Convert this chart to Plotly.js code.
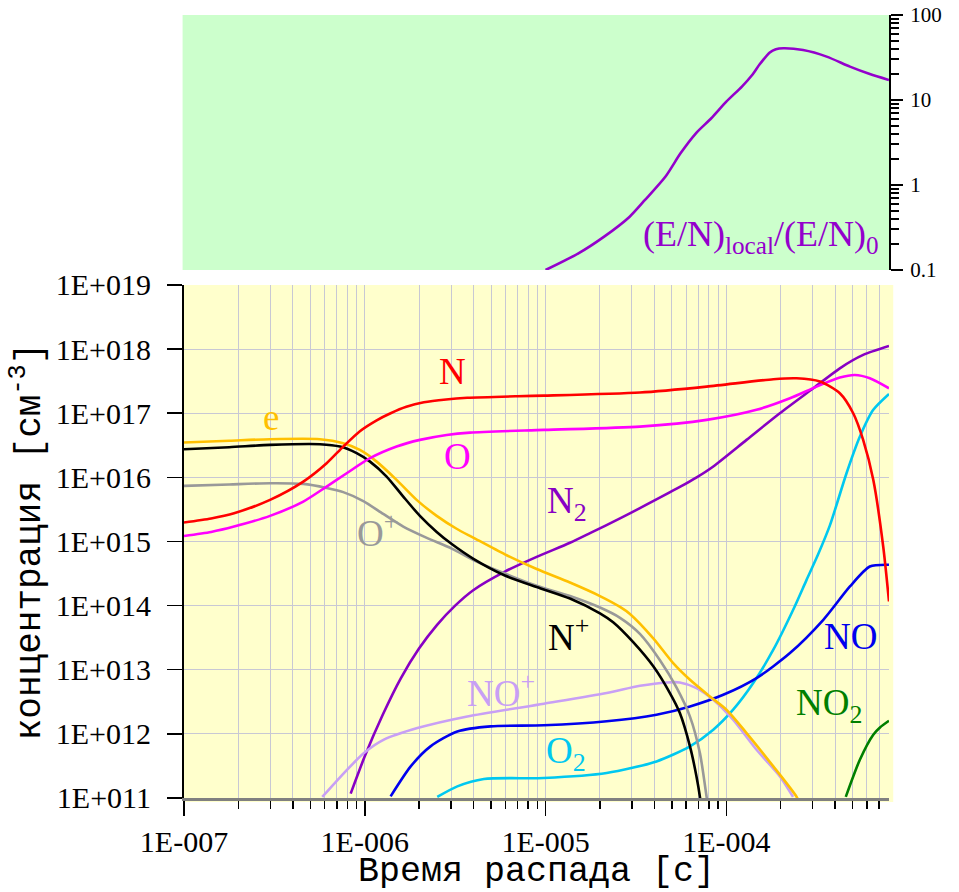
<!DOCTYPE html>
<html>
<head>
<meta charset="utf-8">
<script src="https://cdn.plot.ly/plotly-3.0.1.min.js"></script>
<style>
html,body{margin:0;padding:0;background:#ffffff;}
#chart{width:959px;height:892px;}
</style>
</head>
<body>
<div id="chart"></div>
<script>
// ---- Tick labels ----
const xTickVals = [1e-7, 1e-6, 1e-5, 1e-4];
const xTickText = ["1E-007", "1E-006", "1E-005", "1E-004"];
const xMinorVals = [2e-7,3e-7,4e-7,5e-7,6e-7,7e-7,8e-7,9e-7,
                    2e-6,3e-6,4e-6,5e-6,6e-6,7e-6,8e-6,9e-6,
                    2e-5,3e-5,4e-5,5e-5,6e-5,7e-5,8e-5,9e-5,
                    2e-4,3e-4,4e-4,5e-4,6e-4,7e-4,8e-4];
const yTickVals = [1e11,1e12,1e13,1e14,1e15,1e16,1e17,1e18,1e19];
const yTickText = ["1E+011","1E+012","1E+013","1E+014","1E+015","1E+016","1E+017","1E+018","1E+019"];
const y2TickVals = [0.1, 1, 10, 100];
const y2TickText = ["0.1", "1", "10", "100"];
const y2MinorVals = [0.2,0.3,0.4,0.5,0.6,0.7,0.8,0.9,2,3,4,5,6,7,8,9,20,30,40,50,60,70,80,90];

// ---- Series (time in s, concentration in cm^-3) ----
const e_t = [1e-7,1.778e-7,2.992e-7,5.649e-7,7.603e-7,9.397e-7,1.164e-6,1.500e-6,1.936e-6,2.500e-6,3.221e-6,3.981e-6,5.957e-6,8.933e-6,1.365e-5,2.0e-5,2.582e-5,2.931e-5,3.945e-5,5.082e-5,6.295e-5,8.110e-5,1.002e-4,1.294e-4,1.820e-4,2.449e-4,2.6e-4];
const e_n = [3.49e16,3.72e16,3.94e16,3.94e16,3.41e16,2.68e16,1.76e16,9.14e15,4.46e15,2.51e15,1.58e15,1.15e15,6.31e14,3.72e14,2.29e14,1.41e14,9.55e13,7.41e13,3.09e13,1.27e13,6.98e12,3.84e12,2.38e12,1.03e12,3.11e11,1.04e11,7e10];

const Np_t = [1e-7,1.778e-7,2.992e-7,5.649e-7,7.295e-7,9.016e-7,1.069e-6,1.321e-6,1.633e-6,2.018e-6,2.500e-6,3.027e-6,3.990e-6,5.957e-6,8.933e-6,1.365e-5,2.0e-5,2.366e-5,3.055e-5,3.945e-5,4.875e-5,5.534e-5,6.295e-5,6.839e-5,7.145e-5,7.3e-5];
const Np_n = [2.75e16,2.95e16,3.21e16,3.29e16,3.02e16,2.38e16,1.76e16,1.03e16,5.01e15,2.51e15,1.41e15,9.12e14,5.37e14,2.95e14,1.95e14,1.29e14,7.59e13,5.5e13,2.69e13,1.13e13,4.33e12,2.11e12,6.38e11,2.17e11,1.04e11,6e10];

const Op_t = [1e-7,1.778e-7,2.992e-7,4.571e-7,6.152e-7,7.603e-7,9.817e-7,1.265e-6,1.633e-6,2.188e-6,3.027e-6,3.990e-6,5.957e-6,8.933e-6,1.365e-5,2.0e-5,2.582e-5,3.327e-5,4.295e-5,5.309e-5,6.295e-5,7.145e-5,7.780e-5,8.0e-5];
const Op_n = [7.36e15,7.76e15,8.11e15,7.91e15,6.84e15,5.89e15,4.27e15,2.69e15,1.71e15,1.15e15,7.76e14,5.13e14,3.16e14,2.04e14,1.41e14,9.33e13,6.46e13,3.63e13,1.41e13,5.25e12,1.86e12,5.01e11,1.04e11,6e10];

const N_t = [1e-7,1.413e-7,1.892e-7,2.992e-7,4.571e-7,6.152e-7,7.603e-7,9.397e-7,1.164e-6,1.390e-6,1.698e-6,2.123e-6,2.818e-6,3.690e-6,6.982e-6,9.795e-6,3.327e-5,7.780e-5,1.820e-4,2.449e-4,3.296e-4,4.246e-4,5.035e-4,5.715e-4,6.501e-4,7.379e-4,7.943e-4];
const N_n = [1.98e15,2.29e15,2.76e15,4.46e15,8.59e15,1.66e16,3.02e16,5.25e16,7.76e16,1.0e17,1.26e17,1.48e17,1.64e17,1.74e17,1.84e17,1.88e17,2.1e17,2.6e17,3.39e17,3.51e17,3.12e17,2.05e17,1.0e17,3.84e16,9.14e15,8.36e14,1.16e14];

const O_t = [1e-7,1.413e-7,1.892e-7,2.992e-7,4.571e-7,6.152e-7,7.943e-7,1.069e-6,1.500e-6,2.018e-6,2.838e-6,3.819e-6,9.795e-6,3.327e-5,7.780e-5,1.469e-4,2.249e-4,3.155e-4,4.246e-4,5.140e-4,6.223e-4,7.943e-4];
const O_n = [1.22e15,1.41e15,1.71e15,2.51e15,4.19e15,7.18e15,1.16e16,1.99e16,3.02e16,3.84e16,4.59e16,4.99e16,5.5e16,6.19e16,7.87e16,1.13e17,1.71e17,2.6e17,3.6e17,3.95e17,3.51e17,2.45e17];

const N2_t = [8.356e-7,1.0e-6,1.259e-6,1.585e-6,1.995e-6,2.512e-6,3.162e-6,3.981e-6,5.957e-6,8.933e-6,1.365e-5,1.762e-5,2.582e-5,3.327e-5,5.534e-5,6.855e-5,8.472e-5,1.294e-4,1.977e-4,3.027e-4,4.246e-4,5.715e-4,7.943e-4];
const N2_n = [1.17e11,4.47e11,2.0e12,7.41e12,2.14e13,5.01e13,1.0e14,1.74e14,3.39e14,5.75e14,9.55e14,1.35e15,2.29e15,3.31e15,7.08e15,1.0e16,1.48e16,3.84e16,1.0e17,2.45e17,5.02e17,8.11e17,1.12e18];

const NOp_t = [5.82e-7,7.67e-7,9.9e-7,1.276e-6,1.954e-6,3.69e-6,9.79e-6,2.18e-5,3.33e-5,4.68e-5,5.53e-5,6.84e-5,8.47e-5,1.09e-4,1.47e-4,1.98e-4,2.34e-4];
const NOp_n = [1.04e11,2.45e11,5.02e11,8.11e11,1.23e12,1.87e12,2.95e12,4.33e12,5.62e12,6.34e12,6.34e12,5.18e12,3.4e12,1.66e12,5.66e11,2.17e11,1.04e11];

const NO_t = [1.39e-6,1.795e-6,2.31e-6,3.25e-6,4.97e-6,9.79e-6,2.18e-5,4.11e-5,6.3e-5,9.62e-5,1.47e-4,2.25e-4,3.44e-4,4.83e-4,6.22e-4,7.94e-4];
const NO_n = [1.06e11,3.11e11,6.38e11,1.09e12,1.31e12,1.36e12,1.57e12,1.99e12,2.68e12,4.07e12,7.41e12,1.82e13,6.01e13,1.99e14,4.07e14,4.33e14];

const O2_t = [2.518e-6,3.251e-6,4.560e-6,9.795e-6,2.178e-5,4.111e-5,6.295e-5,8.472e-5,1.091e-4,1.409e-4,1.820e-4,2.344e-4,2.780e-4,3.221e-4,3.741e-4,4.624e-4,5.483e-4,6.501e-4,7.943e-4];
const O2_n = [1.04e11,1.52e11,1.98e11,2.05e11,2.45e11,3.72e11,6.38e11,1.16e12,2.38e12,6.19e12,2.05e13,8.61e13,2.52e14,6.31e14,1.78e15,1.16e16,4.33e16,1.13e17,2.0e17];

const NO2_t = [4.58e-4,5.48e-4,6.5e-4,7.08e-4,7.94e-4];
const NO2_n = [1.04e11,3.95e11,9.7e11,1.26e12,1.6e12];

// ---- Top panel: (E/N)local/(E/N)0 ----
const EN_t = [1.0e-5,1.52e-5,2.11e-5,2.92e-5,3.55e-5,4.6e-5,5.58e-5,6.79e-5,8.26e-5,1.0e-4,1.22e-4,1.39e-4,1.53e-4,1.74e-4,1.88e-4,2.07e-4,2.66e-4,3.59e-4,4.83e-4,6.22e-4,7.94e-4];
const EN_r = [0.1,0.157,0.247,0.424,0.667,1.25,2.36,4.06,6.1,9.55,14.4,19.7,26.3,36.3,39.6,40.6,38.7,32.4,24.7,20.2,17.2];

// ---- Styles ----
const C = {
  e: "#ffc000", Np: "#000000", Op: "#999999", N: "#ff0000", O: "#ff00ff",
  N2: "#8800c4", NOp: "#c89ff5", NO: "#0000ee", O2: "#00c8f0", NO2: "#007f00", EN: "#9400cc"
};
const LW = 2.6;
function tr(x, y, color, name, xa, ya) {
  return {x: x, y: y, name: name, type: "scatter", mode: "lines",
          line: {color: color, width: LW, shape: "spline", smoothing: 0.7},
          xaxis: xa || "x", yaxis: ya || "y", showlegend: false, hoverinfo: "x+y+name"};
}
const data = [
  tr(N2_t, N2_n, C.N2, "N2"),
  tr(NO2_t, NO2_n, C.NO2, "NO2"),
  tr(O2_t, O2_n, C.O2, "O2"),
  tr(NO_t, NO_n, C.NO, "NO"),
  tr(NOp_t, NOp_n, C.NOp, "NO+"),
  tr(e_t, e_n, C.e, "e"),
  tr(Op_t, Op_n, C.Op, "O+"),
  tr(Np_t, Np_n, C.Np, "N+"),
  tr(O_t, O_n, C.O, "O"),
  tr(N_t, N_n, C.N, "N"),
  tr(EN_t, EN_r, C.EN, "(E/N)local/(E/N)0", "x2", "y2")
];

const GRID = "#c8c8d4";
const serif = "Liberation Serif, Times New Roman, serif";
const mono = "Liberation Mono, Courier New, monospace";
const LF = 37;
function lab(text, x, y, color, xa, ya, size) {
  return {text: text, x: x, y: y, xref: xa || "x", yref: ya || "y", showarrow: false,
          font: {family: serif, size: size || LF, color: color}, xanchor: "center", yanchor: "middle"};
}

const layout = {
  width: 959, height: 892,
  margin: {l: 184, r: 70, t: 15, b: 94, autoexpand: false},
  paper_bgcolor: "#ffffff",
  plot_bgcolor: "rgba(0,0,0,0)",
  font: {family: serif, size: 30, color: "#000000"},
  showlegend: false,
  xaxis: {
    domain: [0, 1], anchor: "y", type: "log", range: [-7, -3.1],
    tickmode: "array", tickvals: xTickVals, ticktext: xTickText,
    ticks: "outside", ticklen: 15, tickwidth: 1.5, tickcolor: "#000000",
    showline: true, linecolor: "#808080", linewidth: 2.5,
    showgrid: true, gridcolor: GRID, gridwidth: 1, zeroline: false,
    minor: {tickmode: "array", tickvals: xMinorVals, ticks: "outside", ticklen: 8, tickwidth: 1.5,
            tickcolor: "#000000", showgrid: true, gridcolor: GRID, gridwidth: 1},
    tickfont: {family: serif, size: 30, color: "#000000"},
    ticklabelstandoff: 0,
    title: {text: "Время распада [с]", font: {family: mono, size: 35, color: "#000000"}, standoff: 14}
  },
  yaxis: {
    domain: [0, 0.6552], anchor: "x", type: "log", range: [11, 19],
    tickmode: "array", tickvals: yTickVals, ticktext: yTickText,
    ticks: "outside", ticklen: 15, tickwidth: 1.5, tickcolor: "#000000",
    showline: true, linecolor: "#000000", linewidth: 2,
    showgrid: true, gridcolor: GRID, gridwidth: 1, zeroline: false,
    tickfont: {family: serif, size: 30, color: "#000000"},
    ticklabelstandoff: 10,
    title: {text: "концентрация [см<sup>-3</sup>]", font: {family: mono, size: 36, color: "#000000"}, standoff: 4}
  },
  xaxis2: {
    domain: [0, 1], anchor: "y2", type: "log", matches: "x", visible: false,
    showgrid: false, zeroline: false
  },
  yaxis2: {
    domain: [0.6743, 1], anchor: "x2", side: "right", type: "log", range: [-1, 2],
    tickmode: "array", tickvals: y2TickVals, ticktext: y2TickText,
    ticks: "outside", ticklen: 12, tickwidth: 2, tickcolor: "#000000",
    showline: true, linecolor: "#000000", linewidth: 2,
    showgrid: false, zeroline: false,
    minor: {tickmode: "array", tickvals: y2MinorVals, ticks: "outside", ticklen: 8, tickwidth: 2,
            tickcolor: "#000000", showgrid: false},
    tickfont: {family: serif, size: 21, color: "#000000"},
    ticklabelstandoff: 3
  },
  shapes: [
    {type: "rect", xref: "x domain", yref: "y domain", x0: -0.001, x1: 1.006, y0: -0.008, y1: 1,
     fillcolor: "#ffffcc", line: {width: 0}, layer: "below"},
    {type: "rect", xref: "x2 domain", yref: "y2 domain", x0: -0.002, x1: 1, y0: 0, y1: 1,
     fillcolor: "#ccffcc", line: {width: 0}, layer: "below"}
  ],
  annotations: [
    lab("N", -5.512, 17.644, C.N),
    lab("e", -6.519, 16.93, C.e),
    lab("O", -5.485, 16.319, C.O),
    lab("N<sub>2</sub>", -4.882, 15.59, C.N2),
    lab("O<sup>+</sup>", -5.93, 15.17, C.Op),
    lab("N<sup>+</sup>", -4.871, 13.55, C.Np),
    lab("NO<sup>+</sup>", -5.247, 12.68, C.NOp),
    lab("O<sub>2</sub>", -4.885, 11.7, C.O2),
    lab("NO", -3.311, 13.514, C.NO),
    lab("NO<sub>2</sub>", -3.433, 12.45, C.NO2),
    lab("(E/N)<sub>local</sub>/(E/N)<sub>0</sub>", -3.809, -0.6, C.EN, "x2", "y2", 36)
  ]
};

Plotly.newPlot("chart", data, layout, {displayModeBar: false, staticPlot: true});
</script>
</body>
</html>
